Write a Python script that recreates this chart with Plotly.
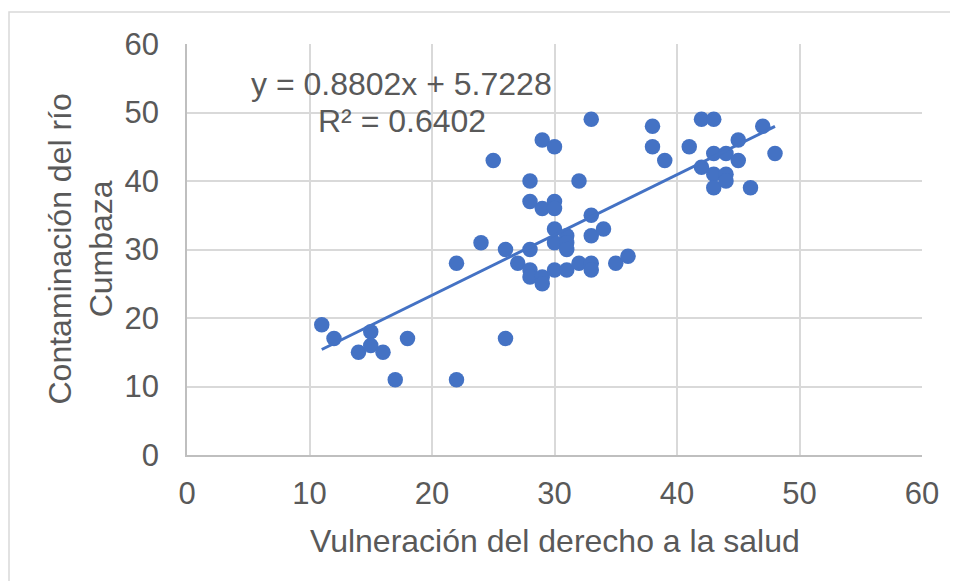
import plotly.graph_objects as go

# Data
vulneracion = [11, 12, 14, 15, 15, 16, 17, 18, 22, 22, 24, 25, 26, 26, 27,
               28, 28, 28, 28, 28, 29, 29, 29, 29, 30, 30, 30, 30, 30, 30,
               31, 31, 31, 31, 32, 32, 33, 33, 33, 33, 33, 34, 35, 36, 38,
               38, 39, 41, 42, 42, 43, 43, 43, 43, 44, 44, 44, 45, 45, 46,
               47, 48]
contaminacion = [19, 17, 15, 18, 16, 15, 11, 17, 28, 11, 31, 43, 30, 17, 28,
                 40, 37, 30, 27, 26, 46, 36, 26, 25, 45, 37, 36, 33, 31, 27,
                 32, 31, 30, 27, 40, 28, 49, 35, 32, 28, 27, 33, 28, 29, 48,
                 45, 43, 45, 49, 42, 49, 44, 41, 39, 44, 41, 40, 46, 43, 39,
                 48, 44]
slope = 0.8802
intercept = 5.7228
r2 = 0.6402
tick_vals = [0, 10, 20, 30, 40, 50, 60]
tick_text = ["0", "10", "20", "30", "40", "50", "60"]

BLUE = "#4472C4"
GRAY_TXT = "#595959"
FONT = "Liberation Sans, Arial, sans-serif"

x_line = [min(vulneracion), max(vulneracion)]
y_line = [slope * v + intercept for v in x_line]

fig = go.Figure()
fig.add_trace(go.Scatter(
    x=vulneracion, y=contaminacion, mode="markers",
    marker=dict(color=BLUE, size=15.5, line=dict(width=0)),
    showlegend=False, hoverinfo="x+y"))
fig.add_trace(go.Scatter(
    x=x_line, y=y_line, mode="lines",
    line=dict(color=BLUE, width=3),
    showlegend=False, hoverinfo="skip"))

axis_common = dict(
    range=[0, 60], tickvals=tick_vals, ticktext=tick_text,
    showgrid=True, gridcolor="#D9D9D9", gridwidth=1.5,
    zeroline=False, showline=True, linecolor="#BFBFBF", linewidth=1.5,
    ticks="outside", tickcolor="rgba(0,0,0,0)",
    tickfont=dict(family=FONT, size=31, color=GRAY_TXT),
    fixedrange=True,
)
fig.update_xaxes(**axis_common, ticklen=10)
fig.update_yaxes(**axis_common, ticklen=20)

# page offset of 8px (body margin) -> figure is 950x573
PLOT_L, PLOT_T = 187, 44  # page pixels
W_plot, H_plot = 735, 411
fig.update_layout(
    width=950, height=573,
    margin=dict(l=PLOT_L - 8, r=36, t=PLOT_T - 8, b=126),
    paper_bgcolor="white", plot_bgcolor="white",
    font=dict(family=FONT, color=GRAY_TXT),
    shapes=[dict(type="rect", xref="paper", yref="paper",
                 x0=(9 - PLOT_L) / W_plot, y0=-1.0, x1=2.0,
                 y1=(PLOT_T + H_plot - 12) / H_plot,
                 line=dict(color="#D9D9D9", width=1.5), layer="below")],
    annotations=[
        dict(text=f"y = {slope}x + {intercept}",
             x=(401 - PLOT_L) / W_plot, y=(PLOT_T + H_plot - 84) / H_plot,
             xref="paper", yref="paper", showarrow=False,
             xanchor="center", yanchor="middle",
             font=dict(size=32, color=GRAY_TXT, family=FONT)),
        dict(text=f"R² = {r2}",
             x=(402 - PLOT_L) / W_plot, y=(PLOT_T + H_plot - 121) / H_plot,
             xref="paper", yref="paper", showarrow=False,
             xanchor="center", yanchor="middle",
             font=dict(size=32, color=GRAY_TXT, family=FONT)),
        dict(text="Vulneración del derecho a la salud",
             x=(555 - PLOT_L) / W_plot, y=(PLOT_T + H_plot - 541) / H_plot,
             xref="paper", yref="paper", showarrow=False,
             xanchor="center", yanchor="middle",
             font=dict(size=32, color=GRAY_TXT, family=FONT)),
        dict(text="Contaminación del río<br>Cumbaza",
             x=(80 - PLOT_L) / W_plot, y=0.5,
             xref="paper", yref="paper", showarrow=False, textangle=-90,
             xanchor="center", yanchor="middle",
             font=dict(size=32, color=GRAY_TXT, family=FONT)),
    ],
)

fig.write_html("out.html")
